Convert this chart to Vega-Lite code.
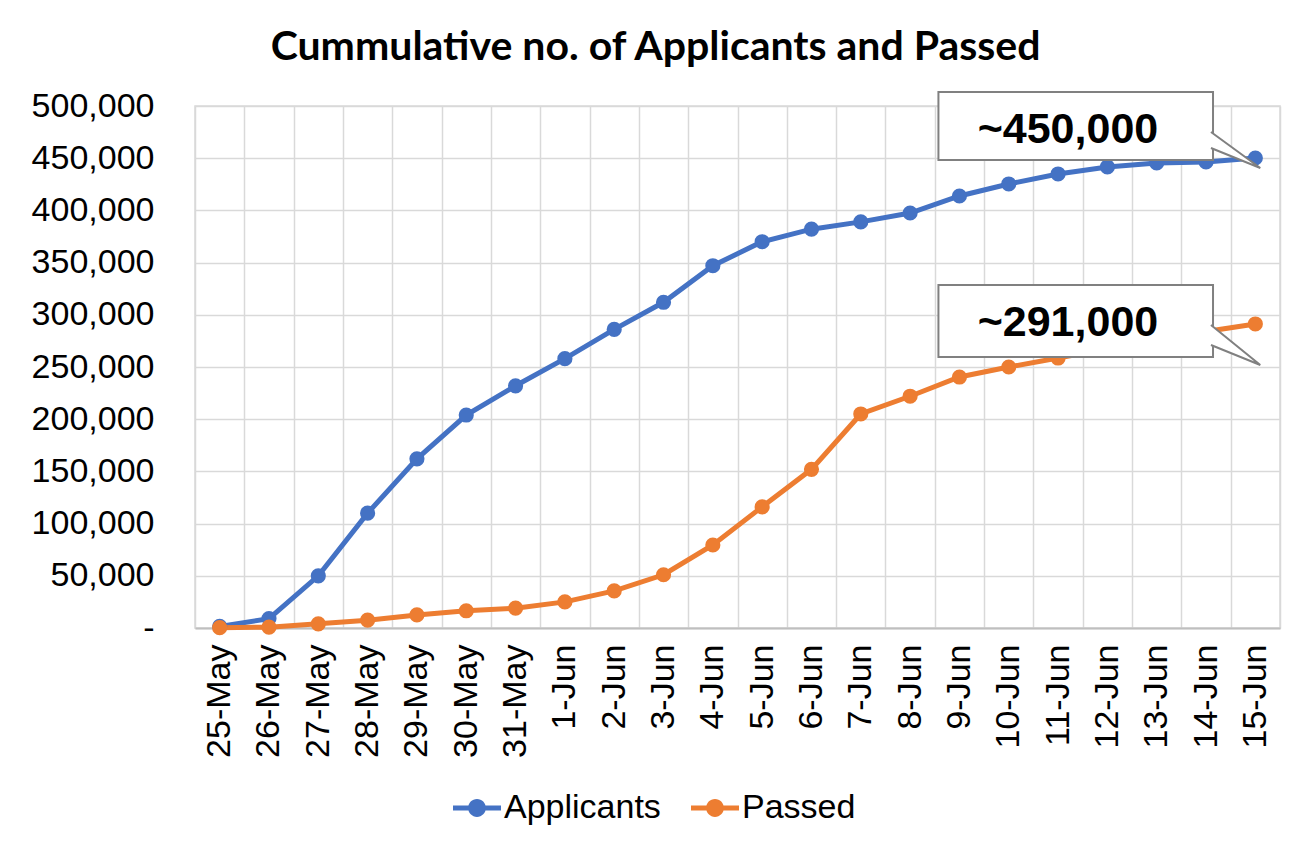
{
  "$schema": "https://vega.github.io/schema/vega-lite/v6.json",
  "width": 1085,
  "height": 522,
  "autosize": "none",
  "padding": {"left": 195, "top": 106, "right": 22, "bottom": 218},
  "background": "white",
  "config": {
    "view": {"stroke": "#d9d9d9", "strokeWidth": 1.5},
    "font": "Liberation Sans"
  },
  "title": {
    "text": "Cummulative no. of Applicants and Passed",
    "font": "Lato",
    "fontWeight": "bold",
    "fontSize": 41,
    "color": "black",
    "anchor": "middle",
    "frame": "bounds",
    "offset": 20
  },
  "datasets": {
    "series": [
      {"date": "25-May", "series": "Applicants", "value": 1500},
      {"date": "26-May", "series": "Applicants", "value": 9000},
      {"date": "27-May", "series": "Applicants", "value": 50000},
      {"date": "28-May", "series": "Applicants", "value": 110000},
      {"date": "29-May", "series": "Applicants", "value": 162000},
      {"date": "30-May", "series": "Applicants", "value": 204000},
      {"date": "31-May", "series": "Applicants", "value": 232000},
      {"date": "1-Jun", "series": "Applicants", "value": 258000},
      {"date": "2-Jun", "series": "Applicants", "value": 286000},
      {"date": "3-Jun", "series": "Applicants", "value": 312000},
      {"date": "4-Jun", "series": "Applicants", "value": 347000},
      {"date": "5-Jun", "series": "Applicants", "value": 370000},
      {"date": "6-Jun", "series": "Applicants", "value": 382000},
      {"date": "7-Jun", "series": "Applicants", "value": 389000},
      {"date": "8-Jun", "series": "Applicants", "value": 397500},
      {"date": "9-Jun", "series": "Applicants", "value": 413800},
      {"date": "10-Jun", "series": "Applicants", "value": 425300},
      {"date": "11-Jun", "series": "Applicants", "value": 434900},
      {"date": "12-Jun", "series": "Applicants", "value": 441600},
      {"date": "13-Jun", "series": "Applicants", "value": 445400},
      {"date": "14-Jun", "series": "Applicants", "value": 446400},
      {"date": "15-Jun", "series": "Applicants", "value": 450200},
      {"date": "25-May", "series": "Passed", "value": 300},
      {"date": "26-May", "series": "Passed", "value": 800},
      {"date": "27-May", "series": "Passed", "value": 4000},
      {"date": "28-May", "series": "Passed", "value": 7500},
      {"date": "29-May", "series": "Passed", "value": 12500},
      {"date": "30-May", "series": "Passed", "value": 16500},
      {"date": "31-May", "series": "Passed", "value": 19000},
      {"date": "1-Jun", "series": "Passed", "value": 25000},
      {"date": "2-Jun", "series": "Passed", "value": 35500},
      {"date": "3-Jun", "series": "Passed", "value": 51000},
      {"date": "4-Jun", "series": "Passed", "value": 79500},
      {"date": "5-Jun", "series": "Passed", "value": 116000},
      {"date": "6-Jun", "series": "Passed", "value": 152000},
      {"date": "7-Jun", "series": "Passed", "value": 205000},
      {"date": "8-Jun", "series": "Passed", "value": 222000},
      {"date": "9-Jun", "series": "Passed", "value": 240400},
      {"date": "10-Jun", "series": "Passed", "value": 250000},
      {"date": "11-Jun", "series": "Passed", "value": 258600},
      {"date": "12-Jun", "series": "Passed", "value": 267500},
      {"date": "13-Jun", "series": "Passed", "value": 276000},
      {"date": "14-Jun", "series": "Passed", "value": 284000},
      {"date": "15-Jun", "series": "Passed", "value": 291200}
    ],
    "callouts": [
      {"from": "9-Jun", "to": "14-Jun", "top": 513400, "bottom": 448300, "label": "~450,000", "tx": "11-Jun", "ty": 477000},
      {"from": "9-Jun", "to": "14-Jun", "top": 328500, "bottom": 259600, "label": "~291,000", "tx": "11-Jun", "ty": 292100}
    ],
    "pointers": [
      {"g": "a", "o": 1, "d": "14-Jun", "v": 475100},
      {"g": "a", "o": 2, "d": "15-Jun", "v": 440600},
      {"g": "a", "o": 3, "d": "14-Jun", "v": 459800},
      {"g": "b", "o": 1, "d": "14-Jun", "v": 290200},
      {"g": "b", "o": 2, "d": "15-Jun", "v": 251900},
      {"g": "b", "o": 3, "d": "14-Jun", "v": 271100}
    ]
  },
  "layer": [
    {
      "data": {"name": "series"},
      "mark": {"type": "line", "strokeWidth": 5, "point": {"filled": true, "size": 230, "opacity": 1}},
      "encoding": {
        "x": {
          "field": "date", "type": "ordinal",
          "scale": {"type": "band", "paddingInner": 0, "paddingOuter": 0,
            "domain": ["25-May","26-May","27-May","28-May","29-May","30-May","31-May","1-Jun","2-Jun","3-Jun","4-Jun","5-Jun","6-Jun","7-Jun","8-Jun","9-Jun","10-Jun","11-Jun","12-Jun","13-Jun","14-Jun","15-Jun"]},
          "axis": {
            "title": null, "labelAngle": -90, "labelFontSize": 34, "labelColor": "black",
            "labelPadding": 16, "ticks": false, "grid": true, "tickBand": "extent",
            "gridColor": "#d9d9d9", "gridWidth": 1.5,
            "domainColor": "#bfbfbf", "domainWidth": 2
          }
        },
        "y": {
          "field": "value", "type": "quantitative",
          "scale": {"domain": [0, 500000], "nice": false},
          "axis": {
            "title": null, "values": [0,50000,100000,150000,200000,250000,300000,350000,400000,450000,500000],
            "labelExpr": "datum.value == 0 ? '-' : format(datum.value, ',')",
            "labelFontSize": 34, "labelColor": "black", "labelPadding": 41,
            "ticks": false, "domain": false, "gridColor": "#d9d9d9", "gridWidth": 1.5
          }
        },
        "color": {
          "field": "series", "type": "nominal",
          "scale": {"domain": ["Applicants", "Passed"], "range": ["#4472C4", "#ED7D31"]},
          "legend": {
            "title": null, "orient": "none", "direction": "horizontal",
            "legendX": 258, "legendY": 678,
            "labelFontSize": 34, "labelColor": "black", "labelOffset": 3, "columnPadding": 30,
            "symbolType": "M-1,-0.1L1,-0.1L1,0.1L-1,0.1ZM-0.37,0A0.37,0.37,0,1,1,0.37,0A0.37,0.37,0,1,1,-0.37,0Z",
            "symbolSize": 2304, "symbolStrokeWidth": 0,
            "encode": {"symbols": {"update": {"fill": {"scale": "color", "field": "value"}, "opacity": {"value": 1}}}}
          }
        }
      }
    },
    {
      "data": {"name": "callouts"},
      "mark": {"type": "rect", "fill": "white", "stroke": "#808080", "strokeWidth": 2, "xOffset": -21, "x2Offset": 7},
      "encoding": {
        "x": {"field": "from", "type": "ordinal"},
        "x2": {"field": "to"},
        "y": {"field": "top", "type": "quantitative"},
        "y2": {"field": "bottom"}
      }
    },
    {
      "data": {"name": "pointers"},
      "mark": {"type": "line", "filled": true, "fill": "white", "stroke": "#808080", "strokeWidth": 2, "strokeJoin": "miter"},
      "encoding": {
        "x": {"field": "d", "type": "ordinal", "bandPosition": 0.6},
        "y": {"field": "v", "type": "quantitative"},
        "detail": {"field": "g"},
        "order": {"field": "o"}
      }
    },
    {
      "data": {"name": "callouts"},
      "mark": {"type": "text", "font": "Liberation Sans", "fontWeight": "bold", "fontSize": 43, "color": "black", "align": "center", "baseline": "middle"},
      "encoding": {
        "x": {"field": "tx", "type": "ordinal", "bandPosition": 0.7},
        "y": {"field": "ty", "type": "quantitative"},
        "text": {"field": "label"}
      }
    }
  ]
}
